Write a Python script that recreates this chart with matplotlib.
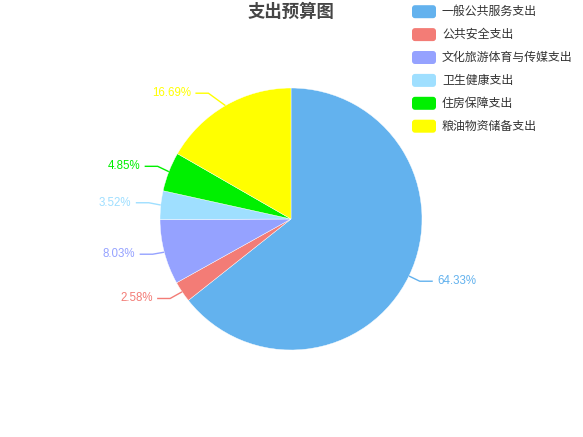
import numpy as np
import matplotlib
matplotlib.use("Agg")
import matplotlib.pyplot as plt
from matplotlib.patches import FancyBboxPatch

categories = ["一般公共服务支出", "公共安全支出", "文化旅游体育与传媒支出",
              "卫生健康支出", "住房保障支出", "粮油物资储备支出"]
values = [64.33, 2.58, 8.03, 3.52, 4.85, 16.69]
labels = ["64.33%", "2.58%", "8.03%", "3.52%", "4.85%", "16.69%"]
colors = ["#63b2ee", "#f37c76", "#95a2ff", "#9fdfff", "#00f000", "#ffff00"]
title = "支出预算图"

# label-line layout tweaks (elbow offsets in pixels), mimicking the label layout
elbow_shift = [(0, 0), (-2, 0), (0, -1), (0, -1), (0, -1), (-11, -2)]

W, H = 583, 437
fig = plt.figure(figsize=(W / 100, H / 100), dpi=100)
ax = fig.add_axes([0, 0, 1, 1])

cx, cy, R = 291, 219, 131
ax.pie(values, colors=colors, startangle=-90, counterclock=True,
       center=(cx, cy), radius=R,
       wedgeprops=dict(edgecolor="white", linewidth=0.3))
ax.set_xlim(0, W)
ax.set_ylim(H, 0)
ax.set_aspect("auto")
ax.axis("off")

cjk = ["Noto Sans CJK SC", "DejaVu Sans"]
num = ["Liberation Sans", "DejaVu Sans"]

total = sum(values)
cum = 0.0
for v, lab, col, (ddx, ddy) in zip(values, labels, colors, elbow_shift):
    mid = -90 + (cum + v / 2) / total * 360
    cum += v
    t = np.deg2rad(mid)
    ux, uy = np.cos(t), np.sin(t)
    p0 = (cx + R * ux, cy + R * uy)
    p1 = (cx + (R + 12) * ux + ddx, cy + (R + 12) * uy + ddy)
    s = 1 if ux >= 0 else -1
    p2 = (p1[0] + s * 13, p1[1])
    ax.plot([p0[0], p1[0], p2[0]], [p0[1], p1[1], p2[1]], color=col, lw=1,
            solid_capstyle="butt")
    ax.text(p2[0] + s * 4.5, p2[1], lab, color=col, fontsize=8.3, family=num,
            ha="left" if s > 0 else "right", va="center")

ax.text(291, 12, title, fontsize=12.5, fontweight="bold", color="#464646",
        family=cjk, ha="center", va="center")

for i, cat in enumerate(categories):
    yc = 11.7 + i * 22.9
    box = FancyBboxPatch((412, yc - 6.5), 24, 13,
                         boxstyle="round,pad=0,rounding_size=3",
                         facecolor=colors[i], edgecolor="none")
    ax.add_patch(box)
    ax.text(442, yc, cat, fontsize=8.6, color="#333333", family=cjk,
            ha="left", va="center")

fig.savefig("out.png", dpi=100)
